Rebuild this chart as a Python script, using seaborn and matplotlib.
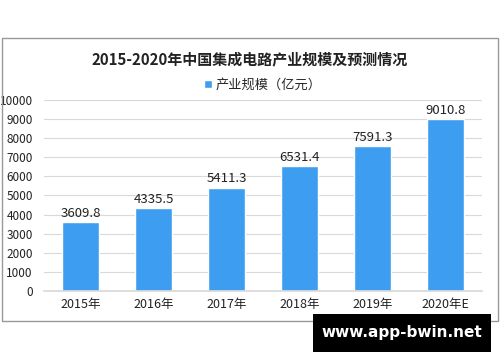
import matplotlib
matplotlib.use("Agg")
import matplotlib.pyplot as plt
import seaborn as sns
import pandas as pd
from matplotlib.patches import Rectangle

categories = ["2015年", "2016年", "2017年", "2018年", "2019年", "2020年E"]
values = [3609.8, 4335.5, 5411.3, 6531.4, 7591.3, 9010.8]
yticks = list(range(0, 10001, 1000))

sns.set_theme(style="white")
plt.rcParams['font.family'] = ['Noto Sans CJK SC', 'DejaVu Sans']

df = pd.DataFrame({"year": categories, "value": values})

fig = plt.figure(figsize=(5, 3.62), dpi=100)
ax = fig.add_axes([0.088, 0.196, 0.876, 0.528])

color = "#3d9df0"
sns.barplot(data=df, x="year", y="value", color=color, width=0.52, ax=ax,
            saturation=1, label="产业规模（亿元）")

ax.set_ylim(0, 10000)
ax.set_xlim(-0.5, 5.5)
ax.set_yticks(yticks)
ax.set_yticklabels([str(t) for t in yticks], fontsize=8.5, color="#222222")
ax.tick_params(axis='x', labelsize=9, colors="#222222", length=0, pad=5)
ax.tick_params(axis='y', length=0, pad=8)
ax.grid(axis='y', color="#d9d9d9", linewidth=0.8)
ax.set_axisbelow(True)
for s in ["top", "right", "left"]:
    ax.spines[s].set_visible(False)
ax.spines["bottom"].set_color("#d9d9d9")
ax.set_xlabel("")
ax.set_ylabel("")

for i, v in enumerate(values):
    ax.text(i, v + 120, f"{v:.1f}", ha="center", va="bottom", fontsize=9.5, color="#222222")

fig.text(0.5, 1 - 59/362, "2015-2020年中国集成电路产业规模及预测情况", ha="center", va="center",
         fontsize=10.8, fontweight="bold", color="#222222")

leg = ax.legend(loc="center", bbox_to_anchor=(0.5, 1 + (100 - 85) / 191), frameon=False,
                fontsize=9.5, handlelength=0.6, handleheight=0.6, handletextpad=0.3)

fig.patches.append(Rectangle((2/500, 1 - 321/362), 496/500, 283/362, transform=fig.transFigure,
                             fill=False, edgecolor="#999999", linewidth=1))

fig.patches.append(Rectangle((313/500, 1 - 352/362), 178/500, 38/362, transform=fig.transFigure,
                             facecolor="black", edgecolor="none"))
fig.text(402/500, 1 - 333/362, "www.app-bwin.net", ha="center", va="center",
         fontsize=11, fontweight="bold", color="white", family=["DejaVu Sans"])

fig.savefig("out.png", dpi=100)
